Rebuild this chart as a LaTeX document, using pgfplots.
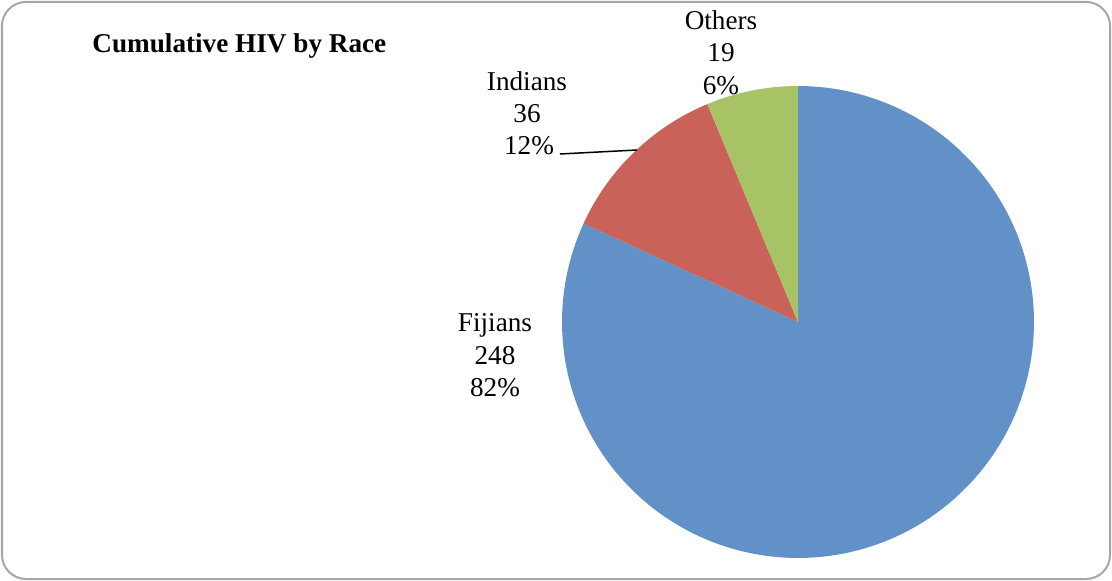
\documentclass[border=0pt]{standalone}
\usepackage{pgfplots}
\pgfplotsset{compat=1.18}
\usepackage{pgfplotstable}
\usepackage{fontspec}
\setmainfont{Liberation Serif}

\definecolor{fijblue}{HTML}{6191C7}
\definecolor{indred}{HTML}{C9635A}
\definecolor{othgreen}{HTML}{A8C365}
\definecolor{framegray}{HTML}{A6A6A6}

% cumulative HIV cases by race
\pgfplotstableread{
label value
Fijians 248
Indians 36
Others 19
}\racedata

\pgfplotstablegetelem{0}{value}\of\racedata \let\vF\pgfplotsretval
\pgfplotstablegetelem{1}{value}\of\racedata \let\vI\pgfplotsretval
\pgfplotstablegetelem{2}{value}\of\racedata \let\vO\pgfplotsretval
\pgfmathsetmacro\tot{\vF+\vI+\vO}
% slices run clockwise from 12 o'clock
\pgfmathsetmacro\aF{90-360*(\vF/\tot)}
\pgfmathsetmacro\aI{\aF-360*(\vI/\tot)}
\pgfmathsetmacro\aO{\aI-360*(\vO/\tot)}

\newcommand\lbl{\fontsize{13.6}{16}\selectfont}

\begin{document}
\begin{tikzpicture}
\begin{axis}[
  scale only axis,
  width=556pt, height=290.5pt,
  xmin=0, xmax=1112, ymin=0, ymax=581,
  y dir=reverse,
  hide axis,
  clip=false,
]
  \path (axis cs:0,0) (axis cs:1112,581);
  \draw[framegray, line width=1pt, rounded corners=12pt]
    (axis cs:2,2) rectangle (axis cs:1110,579);

  \addplot[fill=fijblue, draw=none, domain=90:\aF, samples=181]
    ({798+236*cos(x)},{322-236*sin(x)}) -- (axis cs:798,322) -- cycle;
  \addplot[fill=indred, draw=none, domain=\aF:\aI, samples=40]
    ({798+236*cos(x)},{322-236*sin(x)}) -- (axis cs:798,322) -- cycle;
  \addplot[fill=othgreen, draw=none, domain=\aI:\aO, samples=30]
    ({798+236*cos(x)},{322-236*sin(x)}) -- (axis cs:798,322) -- cycle;

  \node[anchor=base west, inner sep=0pt, font=\fontsize{13.6}{16}\selectfont\bfseries]
    at (axis cs:92,53) {Cumulative HIV by Race};

  \node[anchor=base, font=\lbl] at (axis cs:721,30) {Others};
  \node[anchor=base, font=\lbl] at (axis cs:721,62) {19};
  \node[anchor=base, font=\lbl] at (axis cs:721,95) {6\%};

  \node[anchor=base, font=\lbl] at (axis cs:527,91) {Indians};
  \node[anchor=base, font=\lbl] at (axis cs:527,123) {36};
  \node[anchor=base, font=\lbl] at (axis cs:529,155) {12\%};
  \draw[black, line width=0.75pt] (axis cs:560,154) -- (axis cs:637,150);

  \node[anchor=base, font=\lbl] at (axis cs:495,332) {Fijians};
  \node[anchor=base, font=\lbl] at (axis cs:495,365) {248};
  \node[anchor=base, font=\lbl] at (axis cs:495,397) {82\%};
\end{axis}
\end{tikzpicture}
\end{document}
